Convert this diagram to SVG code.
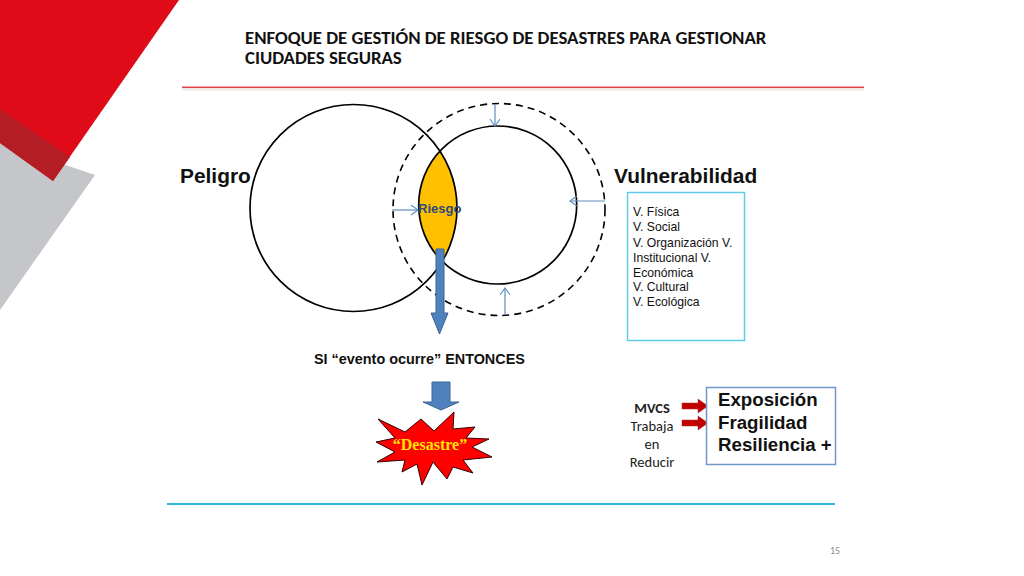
<svg xmlns="http://www.w3.org/2000/svg" width="1024" height="576" viewBox="0 0 1024 576">
<style>
.s{font-family:"Liberation Sans",Arial,sans-serif}
.c{font-family:Carlito,Lato,"Liberation Sans",sans-serif}
.b{font-weight:bold}
.ln{fill:none;stroke:#000;stroke-width:1.700}
.th{fill:none;stroke:#5f8dbf;stroke-width:1.200}
.bl{fill:#4f81bd;stroke:#3a6595;stroke-width:1}
.rd{fill:#c00000;stroke:#a33;stroke-width:.5}
</style>
<defs>
<clipPath id="cl"><circle cx="353.5" cy="208" r="103.5"/></clipPath>
<marker id="oa" markerWidth="10" markerHeight="12" refX="8" refY="5" orient="auto" markerUnits="userSpaceOnUse"><path d="M1 0L8 5L1 10" fill="none" stroke="#5f8dbf" stroke-width="1.100"/></marker>
</defs>
<rect width="1024" height="576" fill="#fff"/>
<g id="decor">
<polygon points="0,143 95,175 0,310" fill="#c5c6ca"/>
<polygon points="0,0 179,0 53,181 0,143" fill="#e00b18"/>
<polygon points="0,109 70,157 53,181 0,143" fill="#b51d24"/>
<rect x="182" y="86.500" width="682" height="1.500" fill="#e0444c"/>
<rect x="182" y="88" width="682" height="2.500" fill="#eadfd8" opacity=".7"/>
<rect x="167" y="503" width="668" height="2" fill="#2eb5dc"/>
</g>
<g id="title"><text class="c b" font-size="18.800" fill="#111"><tspan x="245" y="44">ENFOQUE DE GESTIÓN DE RIESGO DE DESASTRES PARA GESTIONAR</tspan><tspan x="245" y="64">CIUDADES SEGURAS</tspan></text></g>
<g id="riesgo-lens"><circle cx="497.700" cy="205" r="79" fill="#ffc000" clip-path="url(#cl)"/></g>
<g id="peligro"><circle class="ln" cx="353.500" cy="208" r="103.500"/><text class="s b" x="180" y="183" font-size="20.900" fill="#111">Peligro</text></g>
<g id="vulnerabilidad"><circle class="ln" cx="497.700" cy="205" r="79"/><text class="s b" x="614" y="183" font-size="20.900" fill="#111">Vulnerabilidad</text></g>
<g id="dashed-ring"><circle cx="499" cy="209.500" r="106" fill="none" stroke="#000" stroke-width="1.600" stroke-dasharray="7 5"/></g>
<g id="connectors">
<line class="th" x1="495" y1="104" x2="495" y2="126" marker-end="url(#oa)"/>
<line class="th" x1="605" y1="201" x2="570" y2="201" marker-end="url(#oa)"/>
<line class="th" x1="505" y1="315" x2="505" y2="288" marker-end="url(#oa)"/>
<line class="th" x1="392" y1="210" x2="418" y2="210" marker-end="url(#oa)"/>
<polygon class="bl" points="436,249 444,249 444,313 448,313 439.500,334 431,313 436,313"/>
<polygon class="bl" points="432,382 450,382 450,402 459,402 441,410 423,402 432,402"/>
<polygon class="rd" points="682,403 698,403 698,399 708,406 698,413 698,409 682,409"/>
<polygon class="rd" points="682,420 698,420 698,416 708,423 698,430 698,426 682,426"/>
</g>
<g id="riesgo-label"><text class="s b" x="418" y="213" font-size="13" fill="#2a4a7c">Riesgo</text></g>
<g id="lista">
<rect x="627.500" y="192.500" width="117" height="148" fill="#fff" stroke="#5fcbe6" stroke-width="1.500"/>
<g class="s" font-size="12.200" fill="#111">
<text x="633" y="216">V. Física</text>
<text x="633" y="231">V. Social</text>
<text x="633" y="247">V. Organización V.</text>
<text x="633" y="262">Institucional V.</text>
<text x="633" y="277">Económica</text>
<text x="633" y="291">V. Cultural</text>
<text x="633" y="306">V. Ecológica</text>
</g></g>
<g id="evento"><text class="s b" x="314" y="364" font-size="14.400" fill="#111">SI “evento ocurre” ENTONCES</text></g>
<g id="desastre">
<polygon points="378,419 405,432 421,419 434,431 454,412 453,429 475,427 466,438 489,439 472,447 492,457 463,460 473,473 453,467 447,479 433,462 422,485 417,464 402,472 405,460 377,462 395,452 376,442 395,438" fill="#f00" stroke="#300" stroke-width="1"/>
<text x="430" y="450" text-anchor="middle" font-family="'Liberation Serif',serif" font-weight="bold" font-size="16" fill="#ffe600">“Desastre”</text>
</g>
<g id="mvcs" class="c" font-size="14.500" fill="#222" text-anchor="middle">
<text class="b" x="652" y="413">MVCS</text>
<text x="652" y="431">Trabaja</text>
<text x="652" y="449">en</text>
<text x="652" y="467">Reducir</text>
</g>
<g id="factores">
<rect x="706.500" y="387.500" width="129" height="77" fill="#fff" stroke="#7096c8" stroke-width="1.500"/>
<g class="s b" font-size="18.700" fill="#111">
<text x="718" y="406">Exposición</text>
<text x="718" y="429">Fragilidad</text>
<text x="718" y="451">Resiliencia +</text>
</g></g>
<g id="pagina"><text class="c" x="835" y="554" font-size="10" fill="#8a8a8a" text-anchor="middle">15</text></g>
</svg>
